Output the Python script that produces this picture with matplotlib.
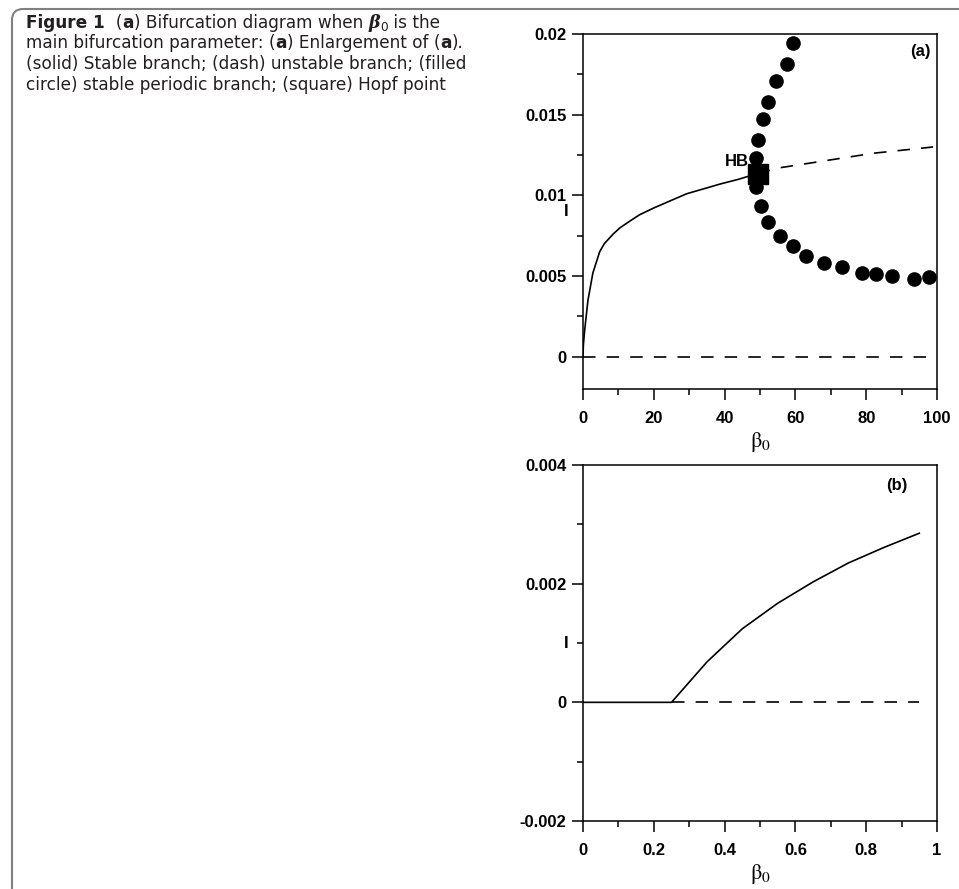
import matplotlib
matplotlib.use("Agg")
import matplotlib.pyplot as plt
from matplotlib.patches import FancyBboxPatch
from matplotlib.ticker import FixedLocator, MultipleLocator
from matplotlib.transforms import IdentityTransform
from matplotlib.font_manager import FontProperties

# ---- data ----
stable_beta = [0, 0.1, 0.25, 0.5, 1.4, 2.8, 4.7, 6.0, 8.5, 10.5, 13.2, 16.0, 19.8,
               24.0, 29.3, 34.0, 38.7, 44.0, 48.5]
stable_I = [0, 0.0007, 0.0011, 0.0017, 0.0035, 0.0052, 0.0065, 0.0070, 0.0076, 0.0080,
            0.0084, 0.0088, 0.0092, 0.0096, 0.0101, 0.0104, 0.0107, 0.0110, 0.0113]

unstable_beta = [49.4, 55.6, 82.0, 98.9]
unstable_I = [0.01135, 0.01171, 0.01261, 0.0130]

zero_beta = [0, 97.2]
zero_I = [0, 0]

hopf_beta = [49.4]
hopf_I = [0.0113]

periodic_beta = [59.4, 57.5, 54.5, 52.4, 50.8, 49.3, 49.0, 49.0, 50.2, 52.4, 55.6,
                 59.4, 63.0, 68.2, 73.1, 78.7, 82.9, 87.2, 93.5, 97.8]
periodic_I = [0.01942, 0.01814, 0.0171, 0.0158, 0.01472, 0.01344, 0.01234, 0.01052,
              0.00934, 0.00836, 0.00747, 0.00685, 0.00627, 0.00582, 0.00555, 0.0052,
              0.00514, 0.00499, 0.00483, 0.00493]

zoom_beta = [0, 0.25, 0.35, 0.45, 0.55, 0.65, 0.75, 0.85, 0.95]
zoom_I = [0, 0, 0.00068, 0.00124, 0.00167, 0.00203, 0.00235, 0.00261, 0.00285]
zoom_zero_beta = [0.25, 0.95]
zoom_zero_I = [0, 0]

top_yticks = [0, 0.005, 0.01, 0.015, 0.02]
top_yticklabels = ["0", "0.005", "0.01", "0.015", "0.02"]
top_xticks = [0, 20, 40, 60, 80, 100]
bot_yticks = [-0.002, 0, 0.002, 0.004]
bot_yticklabels = ["-0.002", "0", "0.002", "0.004"]
bot_xticks = [0, 0.2, 0.4, 0.6, 0.8, 1]
bot_xticklabels = ["0", "0.2", "0.4", "0.6", "0.8", "1"]

caption_lines = [
    [("Figure 1", "bold"), ("  (", "normal"), ("a", "bold"),
     (") Bifurcation diagram when ", "normal"), ("β", "beta"), ("0", "sub"),
     (" is the", "normal")],
    [("main bifurcation parameter: (", "normal"), ("a", "bold"),
     (") Enlargement of (", "normal"), ("a", "bold"), (").", "normal")],
    [("(solid) Stable branch; (dash) unstable branch; (filled", "normal")],
    [("circle) stable periodic branch; (square) Hopf point", "normal")],
]

W, H = 959, 889
plt.rcParams["lines.scale_dashes"] = False
TICK_FONT = {"family": "Liberation Sans", "weight": "bold", "size": 12}
DASH = (9, 8)

fig = plt.figure(figsize=(W / 100, H / 100), dpi=100)

# grey frame around the caption box (top and left edges only)
frame = FancyBboxPatch((12, -40), 1100, H - 9 + 40, boxstyle="round,pad=0,rounding_size=11",
                       transform=IdentityTransform(), facecolor="none",
                       edgecolor="#808080", linewidth=1.5)
fig.add_artist(frame)


def px_axes(left, top, right, bottom):
    return fig.add_axes([left / W, 1 - bottom / H, (right - left) / W, (bottom - top) / H])


def style_axis(ax):
    for sp in ax.spines.values():
        sp.set_linewidth(1.1)
    ax.tick_params(which="major", direction="out", length=8, width=1.1, pad=4)
    ax.tick_params(which="minor", direction="out", length=4.5, width=1.1)
    ax.tick_params(axis="x", which="major", pad=7.5)
    for lab in ax.get_xticklabels() + ax.get_yticklabels():
        lab.set_fontfamily(TICK_FONT["family"])
        lab.set_fontweight(TICK_FONT["weight"])
        lab.set_fontsize(TICK_FONT["size"])


def beta_label(ax):
    ax.set_xlabel(r"$\mathrm{\beta}_0$", fontsize=16, math_fontfamily="stix", labelpad=3)
    ax.set_ylabel("I", fontsize=12, fontweight="bold", family="Liberation Sans",
                  rotation=0, va="center", ha="center")
    ax.yaxis.set_label_coords(-0.048, 0.5)


# ---- panel (a) ----
ax1 = px_axes(583, 34, 937, 389)
ax1.plot(stable_beta, stable_I, color="black", lw=1.2)
ax1.plot(unstable_beta, unstable_I, color="black", lw=1.2, dashes=DASH)
ax1.plot(zero_beta, zero_I, color="black", lw=1.2, dashes=DASH)
ax1.plot(periodic_beta, periodic_I, "o", color="black", ms=9.5, ls="none")
ax1.plot(hopf_beta, hopf_I, "s", color="black", ms=14, ls="none")
ax1.text(46.8, 0.0121, "HB", ha="right", va="center", fontsize=12,
         fontweight="bold", family="Liberation Sans")
ax1.text(98.3, 0.0189, "(a)", ha="right", va="center", fontsize=12,
         fontweight="bold", family="Liberation Sans")
ax1.set_xlim(0, 100)
ax1.set_ylim(-0.002, 0.02)
ax1.yaxis.set_major_locator(FixedLocator(top_yticks))
ax1.set_yticklabels(top_yticklabels)
ax1.yaxis.set_minor_locator(MultipleLocator(0.0025))
ax1.xaxis.set_major_locator(FixedLocator(top_xticks))
ax1.set_xticklabels([str(v) for v in top_xticks])
ax1.xaxis.set_minor_locator(MultipleLocator(10))
style_axis(ax1)
beta_label(ax1)

# ---- panel (b) ----
ax2 = px_axes(583, 465, 937, 821)
ax2.plot(zoom_beta, zoom_I, color="black", lw=1.2)
ax2.plot(zoom_zero_beta, zoom_zero_I, color="black", lw=1.2, dashes=DASH)
ax2.text(0.918, 0.00365, "(b)", ha="right", va="center", fontsize=12,
         fontweight="bold", family="Liberation Sans")
ax2.set_xlim(0, 1)
ax2.set_ylim(-0.002, 0.004)
ax2.yaxis.set_major_locator(FixedLocator(bot_yticks))
ax2.set_yticklabels(bot_yticklabels)
ax2.yaxis.set_minor_locator(MultipleLocator(0.001))
ax2.xaxis.set_major_locator(FixedLocator(bot_xticks))
ax2.set_xticklabels(bot_xticklabels)
ax2.xaxis.set_minor_locator(MultipleLocator(0.1))
style_axis(ax2)
beta_label(ax2)

# ---- caption, drawn run by run so weights can mix ----
renderer = fig.canvas.get_renderer()
CAP_COLOR = "#231f20"
CAP_FAMILY = "DejaVu Sans"


def make_fonts(size):
    return {
        "normal": FontProperties(family=CAP_FAMILY, size=size),
        "bold": FontProperties(family=CAP_FAMILY, weight="bold", size=size),
        "beta": FontProperties(family="DejaVu Serif", weight="bold", style="italic", size=size * 1.05),
        "sub": FontProperties(family=CAP_FAMILY, size=size * 0.72),
    }


def advance(text, prop):
    w1, _, _ = renderer.get_text_width_height_descent("|" + text + "|", prop, ismath=False)
    w0, _, _ = renderer.get_text_width_height_descent("||", prop, ismath=False)
    return w1 - w0


# fit the caption size so the third line spans the same width as in the figure
ref_size = 10.0
probe = advance(caption_lines[2][0][0], make_fonts(ref_size)["normal"])
cap_size = ref_size * 440.0 / probe
fonts = make_fonts(cap_size)

baseline = 28
for line in caption_lines:
    x = 26
    for text, kind in line:
        y = H - baseline
        if kind == "sub":
            y -= 3
        fig.text(x, y, text, fontproperties=fonts[kind], color=CAP_COLOR,
                 transform=IdentityTransform(), ha="left", va="baseline")
        x += advance(text, fonts[kind])
    baseline += 20.5

fig.savefig("out.png", dpi=100)
